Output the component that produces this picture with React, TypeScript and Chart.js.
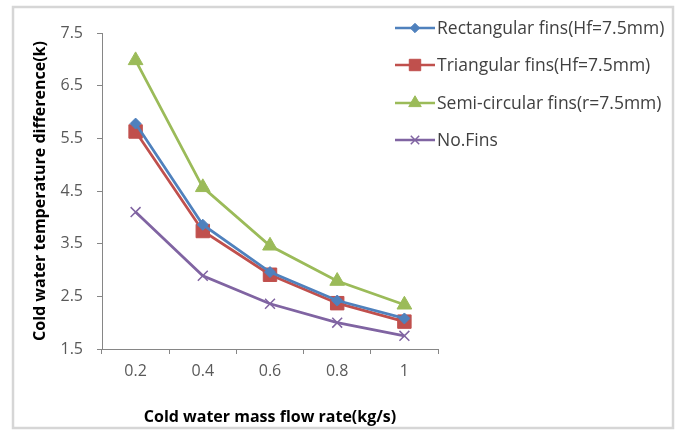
import React, { useEffect, useRef } from 'react';
import { Chart, registerables } from 'chart.js';
import { drawPoint } from 'chart.js/helpers';

Chart.register(...registerables);

const categories = ['0.2', '0.4', '0.6', '0.8', '1'];
const rectangular = [5.78, 3.86, 2.96, 2.42, 2.08];
const triangular = [5.63, 3.74, 2.91, 2.37, 2.02];
const semiCircular = [6.98, 4.57, 3.46, 2.79, 2.34];
const noFins = [4.1, 2.89, 2.36, 2.0, 1.75];
const yTicks = [1.5, 2.5, 3.5, 4.5, 5.5, 6.5, 7.5];

const FONT = '"Open Sans"';

const seriesDefs = [
  { label: 'Rectangular fins(Hf=7.5mm)', data: rectangular, color: '#4F81BD', pointStyle: 'rectRot', radius: 5.5 },
  { label: 'Triangular fins(Hf=7.5mm)', data: triangular, color: '#C0504D', pointStyle: 'rect', radius: 9.5 },
  { label: 'Semi-circular fins(r=7.5mm)', data: semiCircular, color: '#9BBB59', pointStyle: 'triangle', radius: 8.5 },
  { label: 'No.Fins', data: noFins, color: '#8064A2', pointStyle: 'crossRot', radius: 7 },
];

const frameAndLegend = {
  id: 'frameAndLegend',
  afterDraw(chart: any) {
    const ctx = chart.ctx;
    ctx.save();
    ctx.strokeStyle = '#d6d6d6';
    ctx.lineWidth = 2.5;
    ctx.strokeRect(13, 7, 660, 421);
    const ys = [28, 65, 103, 140];
    chart.data.datasets.forEach((ds: any, i: number) => {
      const y = ys[i];
      ctx.strokeStyle = ds.borderColor;
      ctx.fillStyle = ds.borderColor;
      ctx.lineWidth = 2.5;
      ctx.beginPath();
      ctx.moveTo(395, y);
      ctx.lineTo(435, y);
      ctx.stroke();
      ctx.lineWidth = ds.pointStyle === 'crossRot' ? 1.5 : 1;
      drawPoint(ctx, {
        pointStyle: ds.pointStyle,
        radius: ds.pointRadius * 0.85,
        rotation: 0,
        borderWidth: ds.pointStyle === 'crossRot' ? 1.5 : 1,
      } as any, 415, y);
      ctx.fillStyle = '#404040';
      ctx.font = `17.5px ${FONT}`;
      ctx.textBaseline = 'middle';
      ctx.textAlign = 'left';
      ctx.fillText(ds.label, 437, y + 1);
    });
    ctx.restore();
  },
};

export default function App() {
  const ref = useRef<HTMLCanvasElement | null>(null);
  useEffect(() => {
    if (!ref.current) return;
    const chart = new Chart(ref.current, {
      type: 'line',
      data: {
        labels: categories,
        datasets: seriesDefs.map((s) => ({
          label: s.label,
          data: s.data,
          borderColor: s.color,
          backgroundColor: s.color,
          pointBackgroundColor: s.color,
          pointBorderColor: s.color,
          pointStyle: s.pointStyle as any,
          pointRadius: s.radius,
          pointBorderWidth: s.pointStyle === 'crossRot' ? 1.5 : 1,
          borderWidth: 2.75,
          tension: 0,
        })),
      },
      options: {
        animation: false,
        responsive: false,
        events: [],
        layout: { padding: { left: 13, right: 240, top: 33, bottom: 0 } },
        plugins: { legend: { display: false }, tooltip: { enabled: false } },
        scales: {
          x: {
            type: 'category',
            offset: true,
            grid: { offset: true, drawOnChartArea: false, tickLength: 5, color: '#868686', tickColor: '#868686' },
            border: { color: '#868686', width: 1 },
            ticks: { color: '#595959', font: { family: FONT, size: 16 }, padding: 8, maxRotation: 0 },
            title: {
              display: true,
              text: 'Cold water mass flow rate(kg/s)',
              color: '#000000',
              font: { family: FONT, size: 16, weight: 'bold' },
              padding: { top: 0, bottom: 3 },
            },
            afterFit(scale: any) { scale.height = 81; },
          },
          y: {
            min: 1.5,
            max: 7.5,
            afterBuildTicks(scale: any) { scale.ticks = yTicks.map((v) => ({ value: v })); },
            grid: { drawOnChartArea: false, tickLength: 5, color: '#868686', tickColor: '#868686' },
            border: { color: '#868686', width: 1 },
            ticks: { color: '#595959', font: { family: FONT, size: 16 }, padding: 14, callback: (v: any) => Number(v).toFixed(1) },
            title: {
              display: true,
              text: 'Cold water temperature difference(k)',
              color: '#000000',
              font: { family: FONT, size: 16, weight: 'bold' },
              padding: { top: 18, bottom: 0 },
            },
            afterFit(scale: any) { scale.width = 89; },
          },
        },
      },
      plugins: [frameAndLegend],
    });
    return () => chart.destroy();
  }, []);
  return (
    <div style={{ position: 'fixed', left: 0, top: 0, width: 678, height: 430, background: '#fff' }}>
      <canvas ref={ref} width={678} height={430} />
    </div>
  );
}
